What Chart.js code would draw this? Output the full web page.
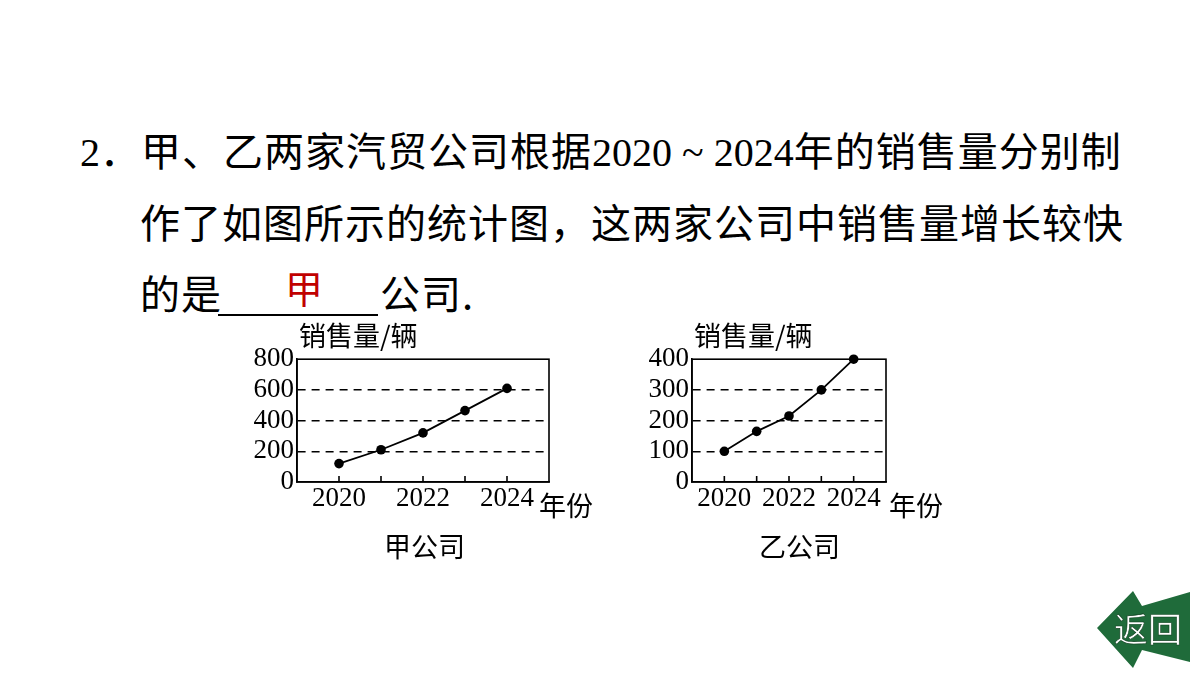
<!DOCTYPE html>
<html>
<head>
<meta charset="utf-8">
<script src="https://cdn.jsdelivr.net/npm/chart.js@4.4.1/dist/chart.umd.min.js"></script>
<style>
  html, body { margin: 0; padding: 0; background: #fff; }
  #page { position: relative; width: 1200px; height: 675px; overflow: hidden; font-family: "Noto Sans CJK SC", sans-serif; color: #000; }
  .line { position: absolute; font-size: 40px; line-height: 50px; letter-spacing: 1px; white-space: nowrap; }
  .num { font-family: "Liberation Serif", serif; letter-spacing: 0; }
  .rule { position: absolute; left: 218px; top: 314px; width: 160px; height: 2px; background: #000; }
  .answer { position: absolute; left: 285px; top: 262px; font-size: 38px; line-height: 50px; color: #c00000; }
  .lbl { position: absolute; font-size: 27px; line-height: 30px; white-space: nowrap; }
  canvas { position: absolute; }
  #back { position: absolute; left: 0; top: 0; }
</style>
</head>
<body>
<div id="page">
  <div class="line" style="left:80px; top:124px;"><span class="num">2</span>．甲、乙两家汽贸公司根据<span class="num">2020 ~ 2024</span>年的销售量分别制</div>
  <div class="line" style="left:140px; top:196px;">作了如图所示的统计图，这两家公司中销售量增长较快</div>
  <div class="line" style="left:140px; top:267px;">的是</div>
  <div class="rule"></div>
  <div class="answer">甲</div>
  <div class="line" style="left:380px; top:267px;">公司.</div>

  <canvas id="chartJia" width="320" height="200" style="left:240px; top:340px;"></canvas>
  <canvas id="chartYi" width="262" height="200" style="left:635px; top:340px;"></canvas>

  <div class="lbl" style="left:299px; top:320px;">销售量/辆</div>
  <div class="lbl" style="left:539px; top:490px;">年份</div>
  <div class="lbl" style="left:384px; top:531px;">甲公司</div>

  <div class="lbl" style="left:694px; top:320px;">销售量/辆</div>
  <div class="lbl" style="left:889px; top:490px;">年份</div>
  <div class="lbl" style="left:759px; top:531px;">乙公司</div>

  <svg id="back" width="1200" height="675">
    <polygon points="1097,628 1133,591 1142,606 1190,592 1190,662 1142,650 1133,668" fill="#1f6b3a"/>
    <text x="1148" y="642" font-size="34" fill="#fff" stroke="#0c3a1c" stroke-width="0.6" text-anchor="middle" font-family="Noto Sans CJK SC">返回</text>
  </svg>
</div>

<script>
const years = [2020, 2021, 2022, 2023, 2024];
const jiaSales = [120, 210, 320, 465, 610];
const yiSales = [100, 165, 215, 300, 400];
const jiaTicks = [0, 200, 400, 600, 800];
const yiTicks = [0, 100, 200, 300, 400];

// box round the plot and short tick marks pointing up from the x axis
const framePlugin = {
  id: 'frame',
  beforeDatasetsDraw(chart) {
    const { ctx, chartArea: a, scales: { x } } = chart;
    ctx.save();
    ctx.strokeStyle = '#000';
    ctx.lineWidth = 1.6;
    ctx.strokeRect(a.left, a.top, a.right - a.left, a.bottom - a.top);
    x.ticks.forEach(t => {
      const px = x.getPixelForValue(t.value);
      ctx.beginPath();
      ctx.moveTo(px, a.bottom);
      ctx.lineTo(px, a.bottom - 6);
      ctx.stroke();
    });
    ctx.restore();
  }
};

function makeChart(id, sales, yTicks) {
  const yMax = yTicks[yTicks.length - 1];
  return new Chart(document.getElementById(id), {
    type: 'line',
    data: {
      datasets: [{
        data: years.map((yr, i) => ({ x: yr, y: sales[i] })),
        borderColor: '#000',
        backgroundColor: '#000',
        borderWidth: 1.8,
        pointRadius: 4.8,
        pointBackgroundColor: '#000',
        pointBorderWidth: 0,
        tension: 0,
        clip: false
      }]
    },
    options: {
      responsive: false,
      animation: false,
      devicePixelRatio: 1,
      layout: { padding: { top: 18, right: 11, left: 0, bottom: 0 } },
      plugins: { legend: { display: false }, tooltip: { enabled: false } },
      scales: {
        x: {
          type: 'linear',
          min: 2019,
          max: 2025,
          afterBuildTicks: s => { s.ticks = years.map(v => ({ value: v })); },
          afterFit: s => { s.height = 58; },
          grid: { display: false, drawTicks: false },
          border: { display: true, color: '#000', width: 1.6 },
          ticks: {
            autoSkip: false,
            maxRotation: 0,
            padding: 1,
            color: '#000',
            font: { family: 'Liberation Serif', size: 27 },
            callback: v => (v % 2 === 0 ? String(v) : '')
          }
        },
        y: {
          min: 0,
          max: yMax,
          afterBuildTicks: s => { s.ticks = yTicks.map(v => ({ value: v })); },
          afterFit: s => { s.width = 57; },
          grid: {
            drawTicks: false,
            lineWidth: 1.6,
            color: c => (c.tick && (c.tick.value === 0 || c.tick.value === yMax) ? 'rgba(0,0,0,0)' : '#000')
          },
          border: { display: true, color: '#000', width: 1.6, dash: [8, 6] },
          ticks: {
            autoSkip: false,
            padding: 3,
            color: '#000',
            font: { family: 'Liberation Serif', size: 27 }
          }
        }
      }
    },
    plugins: [framePlugin]
  });
}

makeChart('chartJia', jiaSales, jiaTicks);
makeChart('chartYi', yiSales, yiTicks);
</script>
</body>
</html>
